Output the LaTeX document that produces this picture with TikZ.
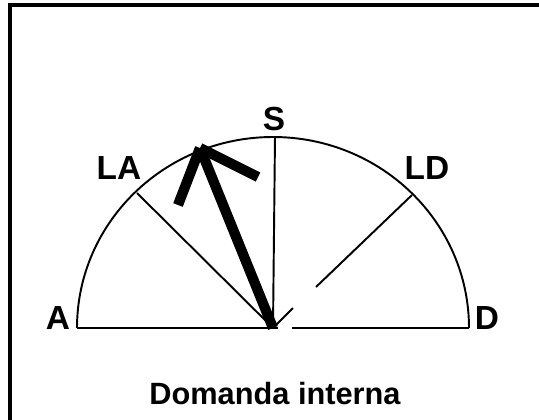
\documentclass[tikz,border=0pt]{standalone}
\usepackage{fontspec}
\setmainfont{Liberation Sans}
\usepackage{tikz}
\usetikzlibrary{positioning, calc}

\begin{document}
\begin{tikzpicture}[x=0.02cm, y=-0.02cm,
    lbl/.style={font=\fontsize{19}{21}\selectfont\bfseries, inner sep=0pt},
    thinline/.style={line width=1.1pt},
    fat/.style={line width=5.8pt}]
    \useasboundingbox (0,0) rectangle (539,420);

    % frame (left and top edges only)
    \draw [line width=2.4pt] (10,420) -- (10,5) -- (539,5);

    % half circle and base line
    \coordinate (ctr) at (273,328);
    \coordinate (pA) at (77,328);
    \coordinate (pD) at (469,328);
    \draw [thinline] (pA) arc [start angle=180, end angle=360, x radius=196, y radius=191];
    \draw [thinline] (pA) -- (278,328);
    \draw [thinline] (292,328) -- (pD);

    % directions
    \coordinate (pS) at (275,137);
    \coordinate (pLA) at (137,193);
    \coordinate (pLD) at (412,195);
    \coordinate (gap1) at (293,308);
    \coordinate (gap2) at (316,287);
    \draw [thinline] (ctr) -- (pS);
    \draw [thinline] (ctr) -- (pLA);
    \draw [thinline] (ctr) -- (gap1);
    \draw [thinline] (gap2) -- (pLD);

    % thick arrow
    \coordinate (tip) at (200,148);
    \coordinate (barbL) at (178,205);
    \coordinate (barbR) at (258,177);
    \draw [fat] (ctr) -- (tip);
    \draw [fat] (tip) -- (barbL);
    \draw [fat] (tip) -- (barbR);

    % labels
    \node (lA) at (58,318) [lbl] {A};
    \node (lD) at (487,318) [lbl] {D};
    \node (lS) at (274,119) [lbl] {S};
    \node (lLA) at (119,168) [lbl] {LA};
    \node (lLD) at (427,168) [lbl] {LD};
    \node (cap) at (275,394) [font=\fontsize{17.5}{20}\selectfont\bfseries, inner sep=0pt] {Domanda interna};
\end{tikzpicture}
\end{document}
